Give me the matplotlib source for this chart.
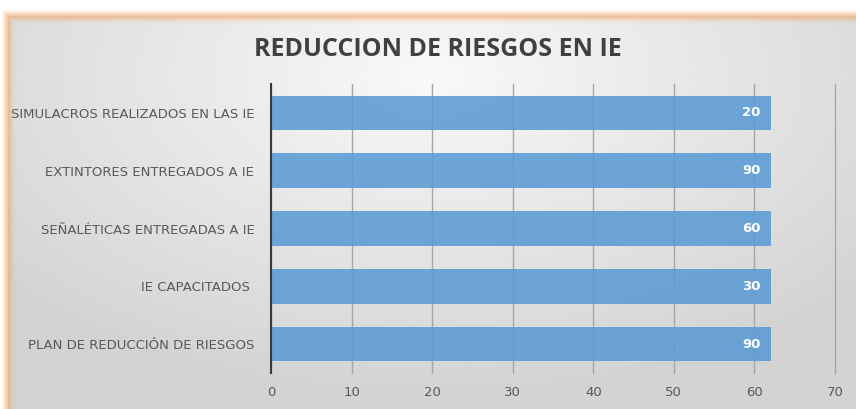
import numpy as np
import matplotlib
matplotlib.use("Agg")
import matplotlib.pyplot as plt
from matplotlib.patches import Rectangle

# data (bar lengths as drawn, labels as printed on the bars)
categories = ['PLAN DE REDUCCIÓN DE RIESGOS', 'IE CAPACITADOS ', 'SEÑALÉTICAS ENTREGADAS A IE',
              'EXTINTORES ENTREGADOS A IE', 'SIMULACROS REALIZADOS EN LAS IE']
bar_lengths = [62, 62, 62, 62, 62]
bar_labels = ['90', '30', '60', '90', '20']
x_ticks = [0, 10, 20, 30, 40, 50, 60, 70]

fig = plt.figure(figsize=(8.56, 4.09), dpi=100)
fig.patch.set_facecolor('white')

# gray gradient background inside the orange frame
bg = fig.add_axes([8/856, 0, 848/856, 1 - 16/409])
yy, xx = np.mgrid[0:1:200j, 0:1:400j]
r = np.sqrt(((xx - 0.5) * 1.1) ** 2 + ((yy - 0.15) * 0.9) ** 2)
shade = 0.975 - 0.15 * np.clip(r / 0.75, 0, 1)
bg.imshow(shade, cmap='gray', vmin=0, vmax=1, aspect='auto', extent=[0, 1, 1, 0])
bg.set_axis_off()
# orange glow along the frame
for w, a in [(9, 0.12), (6, 0.2), (3, 0.35)]:
    fig.patches.append(Rectangle((8/856, -0.05), 1.0, 1 - 16/409 + 0.05, transform=fig.transFigure,
                                 fill=False, edgecolor='#f4a460', linewidth=w, alpha=a))

ax = fig.add_axes([271/856, 1 - 373/409, (835 - 271)/856, (373 - 84)/409])
ax.patch.set_alpha(0)
y = np.arange(len(categories))
ax.barh(y, bar_lengths, height=0.6, color='#5B9BD5', alpha=0.88, zorder=2)
for yi, v, lab in zip(y, bar_lengths, bar_labels):
    ax.text(v - 1.2, yi, lab, ha='right', va='center', color='white', fontsize=9.5,
            fontweight='bold', zorder=3)

ax.set_xlim(0, 70)
ax.set_ylim(-0.5, len(categories) - 0.5)
ax.set_xticks(x_ticks)
ax.set_yticks(y)
ax.set_yticklabels(categories, fontsize=9.5, color='#595959')
ax.tick_params(axis='x', length=0, pad=9, labelsize=9.5, labelcolor='#595959')
ax.tick_params(axis='y', length=0, pad=12)
ax.grid(axis='x', color='#a6a6a6', linewidth=1, zorder=1)
for gl in ax.get_xgridlines():
    gl.set_clip_on(False)
for s in ['top', 'right', 'bottom']:
    ax.spines[s].set_visible(False)
ax.spines['left'].set_color('#3a3a3a')
ax.spines['left'].set_linewidth(1.5)

fig.text(438/856, 1 - 50/409, 'REDUCCION DE RIESGOS EN IE', ha='center', va='center',
         fontsize=18, fontweight='bold', color='#404040', family='Open Sans')

fig.savefig('out.png', dpi=100)
